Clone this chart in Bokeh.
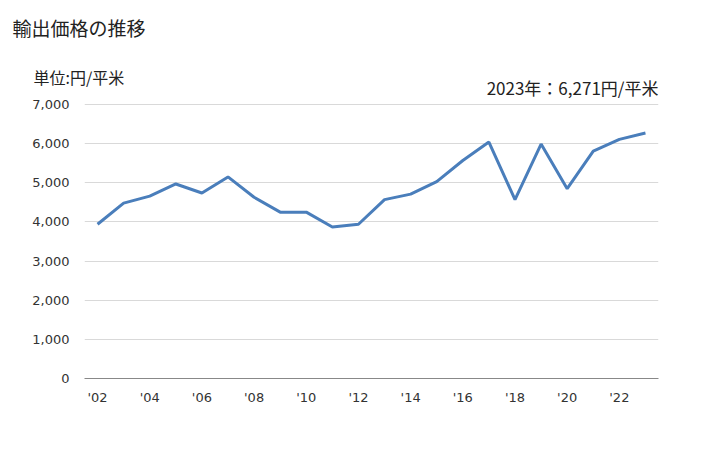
from bokeh.plotting import figure
from bokeh.models import FixedTicker, NumeralTickFormatter, Title, Label, Range1d
from bokeh.embed import file_html
from bokeh.resources import INLINE

years = list(range(2002, 2024))
prices = [3940, 4480, 4660, 4970, 4740, 5150, 4630, 4250, 4250, 3870, 3940,
          4570, 4710, 5030, 5570, 6040, 4570, 5990, 4850, 5810, 6110, 6271]
x_ticks = list(range(2002, 2023, 2))
x_tick_labels = ["'" + str(y)[2:] for y in x_ticks]
y_ticks = list(range(0, 7001, 1000))

title_text = "輸出価格の推移"
unit_text = "単位:円/平米"
latest_text = "2023年：6,271円/平米"

JP = "Noto Sans CJK JP"
NUM = "DejaVu Sans"

# layout geometry (pixels)
W, H = 728, 450
LEFT, RIGHT, BOTTOM = 84, 70, 72
FRAME_TOP = 79          # frame extends above the 7,000 line to hold the latest-value text
GRID_TOP = 104          # canvas y of the 7,000 line
Y_MAX = y_ticks[-1]
frame_h = H - BOTTOM - FRAME_TOP
grid_h = H - BOTTOM - GRID_TOP
y_end = Y_MAX * frame_h / grid_h
latest_y = Y_MAX * (H - BOTTOM - 87) / grid_h

p = figure(width=W, height=H, output_backend="svg", toolbar_location=None,
           x_range=Range1d(2001.5, 2023.5), y_range=Range1d(0, y_end),
           min_border_left=LEFT, min_border_right=RIGHT, min_border_top=FRAME_TOP,
           min_border_bottom=BOTTOM)
p.outline_line_color = None
p.background_fill_color = "white"
p.border_fill_color = "white"

# main title (outermost row); the trailing empty line gives it room
p.title.text = title_text + "\n"
p.title.align = "left"
p.title.offset = -72
p.title.standoff = 9
p.title.text_font = JP
p.title.text_font_size = "19px"
p.title.text_font_style = "normal"
p.title.text_color = "#222222"

# unit row, closest to the frame
p.add_layout(Title(text=unit_text, align="left", offset=-51, standoff=-19,
                   text_font=JP, text_font_size="16px", text_font_style="normal",
                   text_color="#222222"), "above")

p.add_layout(Label(x=2023.5, y=latest_y, text=latest_text,
                   text_font=JP, text_font_size="17px", text_color="#222222",
                   text_baseline="middle", text_align="right"))

p.line(years, prices, line_color="#4a7ebb", line_width=3)

p.xgrid.grid_line_color = None
p.ygrid.grid_line_color = "#d9d9d9"
p.ygrid.grid_line_width = 1
p.yaxis.ticker = FixedTicker(ticks=y_ticks)
p.yaxis.formatter = NumeralTickFormatter(format="0,0")
p.yaxis.axis_line_color = None
p.yaxis.major_tick_line_color = None
p.yaxis.minor_tick_line_color = None
p.yaxis.major_label_text_font = NUM
p.yaxis.major_label_text_font_size = "13px"
p.yaxis.major_label_text_color = "#333333"
p.yaxis.major_label_standoff = 9

p.xaxis.ticker = FixedTicker(ticks=x_ticks)
p.xaxis.major_label_overrides = {t: l for t, l in zip(x_ticks, x_tick_labels)}
p.xaxis.axis_line_color = "#888888"
p.xaxis.major_tick_line_color = None
p.xaxis.minor_tick_line_color = None
p.xaxis.major_label_text_font = NUM
p.xaxis.major_label_text_font_size = "13px"
p.xaxis.major_label_text_color = "#333333"
p.xaxis.major_label_standoff = 5

open("out.html", "w").write(file_html(p, INLINE))
